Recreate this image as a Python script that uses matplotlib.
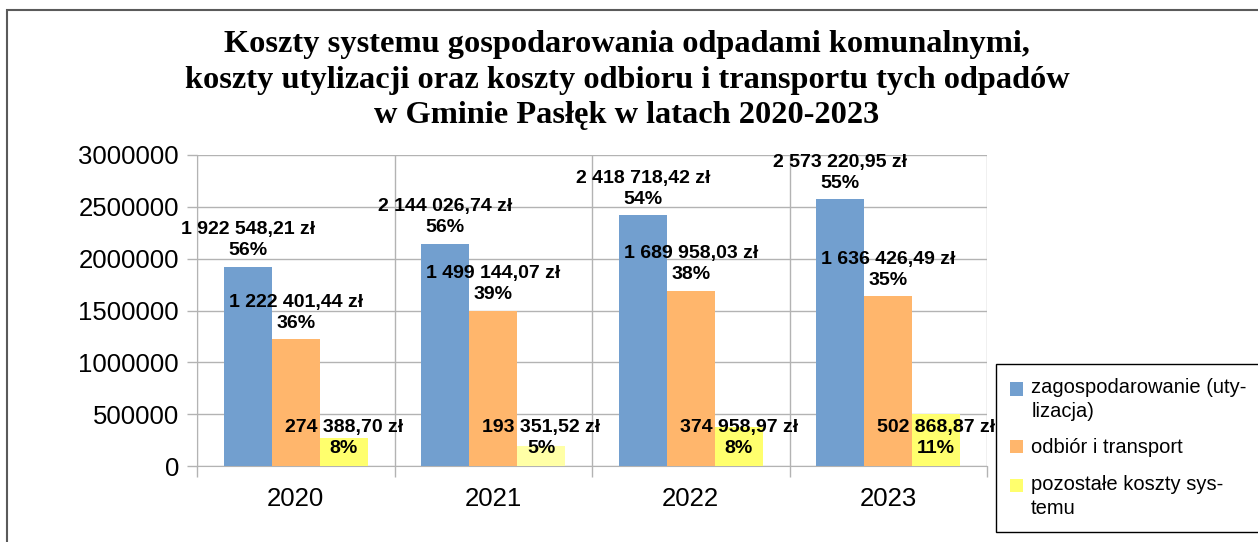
import matplotlib
matplotlib.use("Agg")
import matplotlib.pyplot as plt
import numpy as np
from matplotlib.legend_handler import HandlerPatch
from matplotlib.patches import Rectangle

YEARS = ["2020", "2021", "2022", "2023"]
UTYLIZACJA = [1922548.21, 2144026.74, 2418718.42, 2573220.95]
TRANSPORT = [1222401.44, 1499144.07, 1689958.03, 1636426.49]
POZOSTALE = [274388.70, 193351.52, 374958.97, 502868.87]
SERIES_NAMES = ["zagospodarowanie (uty-\nlizacja)", "odbiór i transport",
                "pozostałe koszty sys-\ntemu"]
Y_TICKS = [0, 500000, 1000000, 1500000, 2000000, 2500000, 3000000]
TITLE = ("Koszty systemu gospodarowania odpadami komunalnymi,\n"
         "koszty utylizacji oraz koszty odbioru i transportu tych odpadów\n"
         "w Gminie Pasłęk w latach 2020-2023")

BLUE, ORANGE = "#729fcf", "#ffb66c"
YELLOWS = ["#ffff6d", "#ffffa6", "#ffff6d", "#ffff6d"]
GRID = "#b3b3b3"
SANS = ["Liberation Sans", "DejaVu Sans"]
SERIF = ["Liberation Serif", "DejaVu Serif"]


def zl(v):
    whole, frac = f"{v:,.2f}".split(".")
    return f"{whole.replace(',', ' ')},{frac} zł"


def square_on_first_line(legend, orig_handle, xdescent, ydescent, width, height, fontsize):
    # two-line labels: LibreOffice puts the swatch next to the first line
    lift = 8.0 if "\n" in orig_handle.get_label() else 0.0
    return Rectangle((-xdescent, -ydescent + lift), width, height)


def first_bar_style(handle, container):
    handle.update_from(container.patches[0])
    handle.set_facecolor(container.patches[0].get_facecolor())


fig = plt.figure(figsize=(12.58, 5.42), dpi=100)
ax = fig.add_axes([197 / 1258, 1 - 466 / 542, 790 / 1258, 311 / 542])

x = np.arange(len(YEARS))
w = 0.243
totals = np.array(UTYLIZACJA) + np.array(TRANSPORT) + np.array(POZOSTALE)

b1 = ax.bar(x - w, UTYLIZACJA, w, color=BLUE, label=SERIES_NAMES[0], zorder=3)
b2 = ax.bar(x, TRANSPORT, w, color=ORANGE, label=SERIES_NAMES[1], zorder=3)
b3 = ax.bar(x + w, POZOSTALE, w, color=YELLOWS, label=SERIES_NAMES[2], zorder=3)

lab = dict(ha="center", fontsize=14, fontweight="bold", family=SANS,
           linespacing=1.3, zorder=5)
for i in range(len(YEARS)):
    for xi, v in ((x[i] - w, UTYLIZACJA[i]), (x[i], TRANSPORT[i])):
        ax.annotate(f"{zl(v)}\n{v / totals[i] * 100:.0f}%", (xi, v),
                    xytext=(0, 5.5), textcoords="offset points", va="bottom", **lab)
    v = POZOSTALE[i]
    ax.text(x[i] + w, 272000, f"{zl(v)}\n{v / totals[i] * 100:.0f}%", va="center", **lab)

ax.set_xlim(-0.5, len(YEARS) - 0.5)
ax.set_ylim(0, 3000000)
ax.set_yticks(Y_TICKS)
ax.set_yticklabels([str(t) for t in Y_TICKS], family=SANS, fontsize=18.5)
ax.set_xticks(x)
ax.set_xticklabels(YEARS, family=SANS, fontsize=18.5)
ax.set_xticks(np.arange(len(YEARS) + 1) - 0.5, minor=True)
ax.tick_params(axis="x", which="major", length=0, pad=15)
ax.tick_params(axis="x", which="minor", length=8, color=GRID, width=1)
ax.tick_params(axis="y", length=7, color=GRID, width=1, pad=6)
ax.grid(axis="y", color=GRID, lw=1, zorder=0)
ax.grid(axis="x", which="minor", color=GRID, lw=1, zorder=0)
for s in ("top", "right"):
    ax.spines[s].set_visible(False)
for s in ("left", "bottom"):
    ax.spines[s].set_color(GRID)

fig.text(0.4985, 1 - 30 / 542, TITLE, ha="center", va="top", family=SERIF,
         fontsize=23.3, fontweight="bold", linespacing=1.3)

handler = HandlerPatch(patch_func=square_on_first_line, update_func=first_bar_style)
leg = fig.legend(handles=[b1, b2, b3], loc="upper left", borderaxespad=0,
                 bbox_to_anchor=(996 / 1258, 1 - 364 / 542),
                 prop={"family": SANS, "size": 14.5},
                 handler_map={b: handler for b in (b1, b2, b3)},
                 fancybox=False, edgecolor="black", framealpha=1, handlelength=0.65,
                 handleheight=0.65, handletextpad=0.4, borderpad=0.7, labelspacing=0.85)
leg.get_frame().set_linewidth(1)
for t in leg.get_texts():
    t.set_linespacing(1.35)

fig.add_artist(Rectangle((7 / 1258, -0.05), 1.1, 1 - 10 / 542 + 0.05, transform=fig.transFigure,
                         fill=False, edgecolor="#5a5a5a", lw=1.5))

fig.savefig("out.png", dpi=100)
